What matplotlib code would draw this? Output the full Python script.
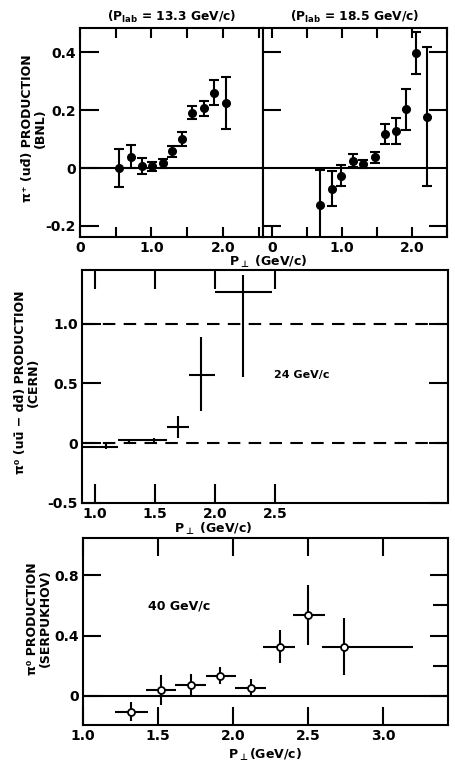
import numpy as np
import matplotlib
matplotlib.use('Agg')
import matplotlib.pyplot as plt
from matplotlib.ticker import FixedLocator

#------#
# DATA #
#------#

# BNL, P_lab = 13.3 GeV/c
bnl13_pt  = [0.54, 0.71, 0.87, 1.01, 1.16, 1.29, 1.43, 1.57, 1.73, 1.87, 2.04]
bnl13_y   = [0.0, 0.039, 0.006, 0.006, 0.016, 0.057, 0.099, 0.191, 0.206, 0.259, 0.225]
bnl13_err = [0.067, 0.04, 0.028, 0.015, 0.015, 0.018, 0.024, 0.023, 0.025, 0.043, 0.09]

# BNL, P_lab = 18.5 GeV/c
bnl18_pt  = [0.69, 0.85, 0.99, 1.15, 1.30, 1.47, 1.62, 1.77, 1.91, 2.05, 2.21]
bnl18_y   = [-0.126, -0.072, -0.026, 0.025, 0.014, 0.037, 0.117, 0.128, 0.202, 0.397, 0.177]
bnl18_err = [0.12, 0.06, 0.036, 0.022, 0.015, 0.018, 0.034, 0.045, 0.072, 0.072, 0.24]

# CERN, 24 GeV/c (bins in pt)
cern_pt     = [1.09, 1.28, 1.49, 1.69, 1.88, 2.23]
cern_pt_lo  = [0.90, 1.19, 1.40, 1.60, 1.78, 2.00]
cern_pt_hi  = [1.19, 1.40, 1.60, 1.78, 2.00, 2.47]
cern_y      = [-0.029, 0.023, 0.023, 0.137, 0.566, 1.265]
cern_err_lo = [0.02, 0.015, 0.02, 0.09, 0.30, 0.71]
cern_err_hi = [0.02, 0.015, 0.02, 0.09, 0.32, 0.14]

# Serpukhov, 40 GeV/c
serp_pt    = [1.32, 1.52, 1.72, 1.91, 2.12, 2.31, 2.50, 2.74]
serp_pt_lo = [1.21, 1.42, 1.61, 1.82, 2.01, 2.20, 2.40, 2.59]
serp_pt_hi = [1.43, 1.62, 1.82, 2.02, 2.22, 2.41, 2.61, 3.20]
serp_y     = [-0.104, 0.04, 0.073, 0.134, 0.055, 0.326, 0.536, 0.326]
serp_err   = [0.063, 0.10, 0.075, 0.055, 0.06, 0.11, 0.20, 0.19]

#----------------#
# Visualizations #
#----------------#

plt.rcParams['font.family'] = 'DejaVu Sans'
plt.rcParams['font.weight'] = 'bold'
plt.rcParams['axes.labelweight'] = 'bold'
plt.rcParams['axes.titleweight'] = 'bold'
plt.rcParams['mathtext.fontset'] = 'dejavusans'
plt.rcParams['mathtext.default'] = 'bf'
lw = 1.5
ptlabel = r'$P_{\bot}$ (GeV/c)'

fig = plt.figure(figsize=(4.56, 7.66), dpi=100)
fig.patch.set_facecolor('white')

W, H = 456., 766.
def box(x0, y0, x1, y1):
    # pixel box -> figure fraction
    return [x0 / W, 1 - y1 / H, (x1 - x0) / W, (y1 - y0) / H]

axL = fig.add_axes(box(80, 28, 263, 237))
axR = fig.add_axes(box(263, 28, 447, 237))
axM = fig.add_axes(box(82, 270, 448, 503))
axB = fig.add_axes(box(83, 538, 448, 725))

for ax in [axL, axR, axM, axB]:
    for s in ax.spines.values():
        s.set_linewidth(lw)
    ax.tick_params(which='both', direction='in', width=lw, labelsize=10,
                   pad=3)

#
# Top: BNL pi+ production
#
def bnl_panel(ax, pt, y, err, xlim):
    ax.axhline(0, color='k', lw=lw)
    ax.errorbar(pt, y, yerr=err, fmt='o', color='k', ms=5.5, capsize=3.5,
                elinewidth=lw, capthick=lw)
    ax.set_xlim(xlim)
    ax.set_ylim(-0.238, 0.483)
    ax.xaxis.set_major_locator(FixedLocator([0, 1, 2]))
    ax.xaxis.set_minor_locator(FixedLocator([0.5, 1.5, 2.5]))
    ax.set_xticklabels(['0', '1.0', '2.0'])
    ax.tick_params(axis='x', which='both', top=True, bottom=True, length=7)

bnl_panel(axL, bnl13_pt, bnl13_y, bnl13_err, (0, 2.56))
axL.set_yticks([-0.2, 0, 0.2, 0.4])
axL.set_yticklabels(['-0.2', '0', '0.2', '0.4'])
axL.tick_params(axis='y', length=14, right=False)
axL.set_title(r'($P_{lab}$ = 13.3 GeV/c)', fontsize=8.8, pad=5)

bnl_panel(axR, bnl18_pt, bnl18_y, bnl18_err, (-0.13, 2.5))
axR.set_yticks([-0.2, 0.2, 0.4])
axR.tick_params(axis='y', length=13, left=True, right=True, labelleft=False)
axR.set_title(r'($P_{lab}$ = 18.5 GeV/c)', fontsize=8.8, pad=5)

axL.set_ylabel('\u03c0\u207a (ud\u0304) PRODUCTION\n(BNL)', fontsize=9,
               linespacing=1.0)
axL.yaxis.set_label_coords(-0.18, 0.52)
fig.text(268 / W, 1 - 262 / H, ptlabel, fontsize=9, fontweight='bold',
         ha='center', va='center')

#
# Middle: CERN pi0
#
axM.axhline(0, color='k', lw=lw, dashes=(6, 4))
axM.axhline(1.0, color='k', lw=lw, dashes=(6, 4))
xerr = [np.subtract(cern_pt, cern_pt_lo), np.subtract(cern_pt_hi, cern_pt)]
axM.errorbar(cern_pt, cern_y, xerr=xerr, yerr=[cern_err_lo, cern_err_hi],
             fmt='none', ecolor='k', elinewidth=lw, capsize=0)
axM.set_xlim(0.89, 3.94)
axM.set_ylim(-0.5, 1.448)
axM.set_xticks([1.0, 1.5, 2.0, 2.5])
axM.set_xticklabels(['1.0', '1.5', '2.0', '2.5'])
axM.set_yticks([-0.5, 0, 0.5, 1.0])
axM.set_yticklabels(['-0.5', '0', '0.5', '1.0'])
axM.tick_params(axis='x', top=True, length=14)
axM.tick_params(axis='y', right=True, length=14)
axM.text(2.49, 0.566, '24 GeV/c', fontsize=8, va='center', ha='left')
axM.set_ylabel('\u03c0\u2070 (uu\u0304 \u2212 dd\u0304) PRODUCTION\n(CERN)',
               fontsize=9, linespacing=1.0)
axM.yaxis.set_label_coords(-0.115, 0.52)
axM.set_xlabel(ptlabel, fontsize=9, labelpad=1)
axM.xaxis.set_label_coords(0.358, -0.075)

#
# Bottom: Serpukhov pi0
#
axB.axhline(0, color='k', lw=lw)
xerr = [np.subtract(serp_pt, serp_pt_lo), np.subtract(serp_pt_hi, serp_pt)]
axB.errorbar(serp_pt, serp_y, xerr=xerr, yerr=serp_err, fmt='o', color='k',
             mfc='white', mec='k', mew=1.3, ms=5, elinewidth=lw, capsize=0)
axB.set_xlim(1.0, 3.433)
axB.set_ylim(-0.192, 1.045)
axB.set_xticks([1.0, 1.5, 2.0, 2.5, 3.0])
axB.set_xticklabels(['1.0', '1.5', '2.0', '2.5', '3.0'])
axB.set_yticks([0, 0.4, 0.8])
axB.set_yticklabels(['0', '0.4', '0.8'])
axB.yaxis.set_minor_locator(FixedLocator([0.2, 0.6]))
axB.tick_params(axis='x', top=True, length=13)
axB.tick_params(axis='y', which='major', left=True, right=True, length=13)
axB.tick_params(axis='y', which='minor', left=False, right=True, length=11)
axB.text(1.43, 0.595, '40 GeV/c', fontsize=9, va='center', ha='left')
axB.set_ylabel('\u03c0\u2070 PRODUCTION\n(SERPUKHOV)', fontsize=9,
               linespacing=1.0)
axB.yaxis.set_label_coords(-0.085, 0.57)
axB.set_xlabel(r'$P_{\bot}$(GeV/c)', fontsize=9, labelpad=3)

fig.savefig('out.png', dpi=100)
